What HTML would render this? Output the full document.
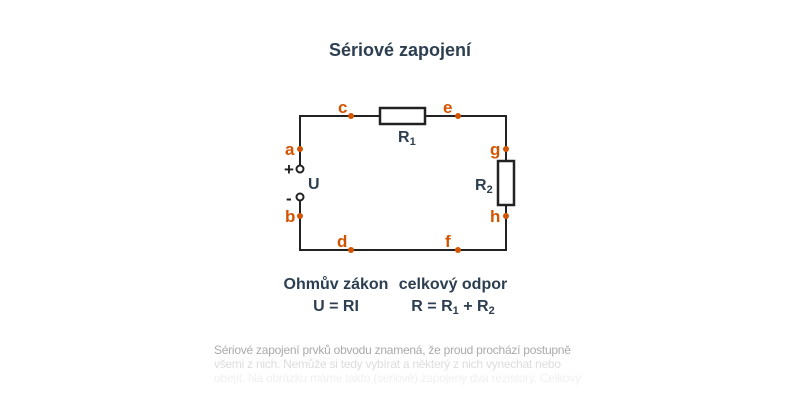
<!DOCTYPE html>
<html><head><meta charset="utf-8"><style>
body{margin:0;width:800px;height:400px;background:#fff;overflow:hidden;font-family:"Liberation Sans",sans-serif;position:relative}
.t{position:absolute;left:0;width:800px;text-align:center;color:#2c3e50;font-size:18px;top:40px;font-weight:bold}
.p{position:absolute;left:214px;font-size:12px;letter-spacing:-0.25px;line-height:14px;top:343px;color:#bbb;white-space:nowrap}
</style></head><body>
<div class="t">Sériové zapojení</div>
<svg width="800" height="400" style="position:absolute;left:0;top:0" font-family="Liberation Sans, sans-serif" font-weight="bold">
<g stroke="#222" stroke-width="2" fill="none">
<polyline points="300,169 300,116 380,116"/>
<polyline points="425,116 506,116 506,161"/>
<polyline points="506,205 506,250 300,250 300,197"/>
<rect x="380" y="108" width="45" height="16" fill="#fff" stroke-width="2.5"/>
<rect x="498" y="161" width="16" height="44" fill="#fff" stroke-width="2.5"/>
<circle cx="300" cy="169" r="3.5" fill="#fff"/>
<circle cx="300" cy="197" r="3.5" fill="#fff"/>
</g>
<g fill="#d35400">
<circle cx="300" cy="149" r="3"/><circle cx="351" cy="116" r="3"/><circle cx="458" cy="116" r="3"/>
<circle cx="506" cy="149" r="3"/><circle cx="506" cy="216" r="3"/><circle cx="300" cy="216" r="3"/>
<circle cx="351" cy="250" r="3"/><circle cx="458" cy="250" r="3"/>
</g>
<g fill="#d35400" font-size="17">
<text x="285" y="155">a</text><text x="338" y="113">c</text><text x="443" y="113">e</text>
<text x="490" y="155">g</text><text x="490" y="222">h</text><text x="285" y="222">b</text>
<text x="337" y="247">d</text><text x="445" y="247">f</text>
</g>
<g fill="#222" font-size="17"><text x="284" y="175">+</text><text x="286" y="204">-</text></g>
<g fill="#2c3e50" font-size="16">
<text x="308" y="189">U</text>
<text x="398" y="142">R<tspan font-size="11" dy="3">1</tspan></text>
<text x="475" y="190">R<tspan font-size="11" dy="3">2</tspan></text>
</g>
<g fill="#2c3e50" font-size="16" text-anchor="middle">
<text x="336" y="289">Ohmův zákon</text>
<text x="336" y="311">U = RI</text>
<text x="453" y="289">celkový odpor</text>
<text x="453" y="311">R = R<tspan font-size="11" dy="3">1</tspan><tspan dy="-3"> + R</tspan><tspan font-size="11" dy="3">2</tspan></text>
</g>
</svg>
<div class="p"><span style="color:#aaa">Sériové zapojení prvků obvodu znamená, že proud prochází postupně</span><br><span style="color:#ddd">všemi z nich. Nemůže si tedy vybírat a některý z nich vynechat nebo</span><br><span style="color:#f0f0f0">obejít. Na obrázku máme takto (sériově) zapojeny dva rezistory. Celkový</span></div>
</body></html>
